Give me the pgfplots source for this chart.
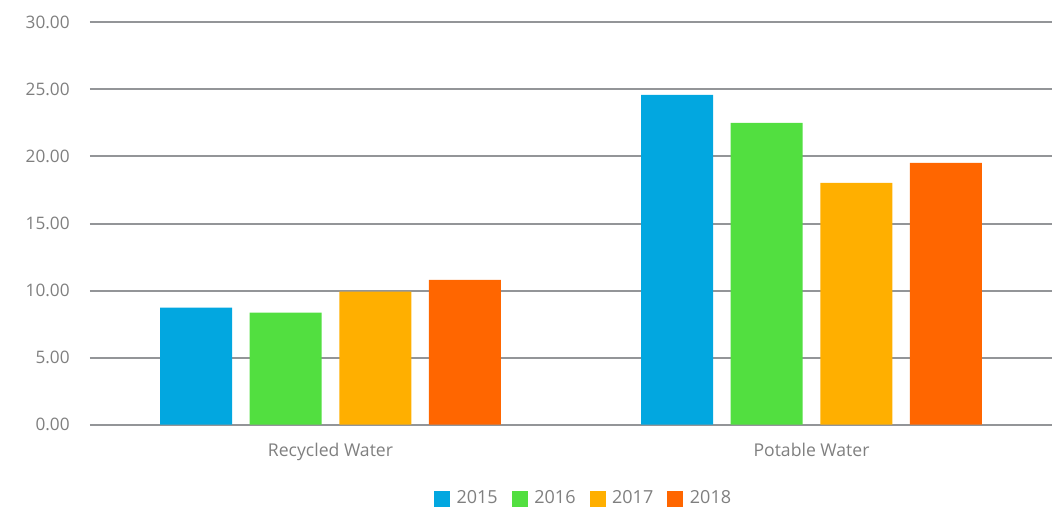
\documentclass[border=0pt]{standalone}
\usepackage{pgfplots}
\pgfplotsset{compat=1.18}
\usepackage{fontspec}
\setmainfont{Open Sans}
\definecolor{cA}{HTML}{02A7E0}
\definecolor{cB}{HTML}{52DF40}
\definecolor{cC}{HTML}{FFAF00}
\definecolor{cD}{HTML}{FF6600}
\definecolor{gridc}{HTML}{939598}
\definecolor{textc}{HTML}{7F7F7F}
\begin{document}
\begin{tikzpicture}
\path[use as bounding box] (-45pt,-41.65pt) rectangle (481.5pt,212.35pt);
\begin{axis}[
  at={(0,0)}, anchor=south west,
  scale only axis, width=481pt, height=201.2pt,
  xmin=-0.5, xmax=1.5, ymin=0, ymax=30,
  ybar, bar width=36pt,
  xtick={0,1}, xticklabels={Recycled Water, Potable Water},
  ytick={0,5,10,15,20,25,30},
  yticklabel={\pgfmathprintnumber[fixed,fixed zerofill,precision=2,assume math mode=true]{\tick}},
  ymajorgrids, major grid style={draw=gridc, line width=1pt},
  axis line style={draw=none},
  major tick length=0pt,
  tick label style={font=\fontsize{8.6}{10}\selectfont, text=textc},
  x tick label style={font=\fontsize{8.8}{10}\selectfont},
  y tick label style={anchor=east, inner sep=0pt, xshift=-10pt},
  x tick label style={anchor=base, inner sep=0pt, yshift=-16pt},
  legend columns=4,
  legend style={draw=none, fill=none, at={(0.512,-0.1834)}, anchor=center,
    font=\fontsize{9}{10}\selectfont, text=textc,
    nodes={inner sep=0pt},
    /tikz/every odd column/.append style={column sep=3.3pt},
    /tikz/every even column/.append style={column sep=7pt}},
  legend image code/.code={\fill[#1] (0pt,-4pt) rectangle (8pt,4pt);},
]
\addplot[fill=cA, draw=none, bar shift=-67.2pt] coordinates {(0,8.72) (1,24.59)};
\addplot[fill=cB, draw=none, bar shift=-22.4pt] coordinates {(0,8.35) (1,22.50)};
\addplot[fill=cC, draw=none, bar shift=22.4pt] coordinates {(0,9.93) (1,18.03)};
\addplot[fill=cD, draw=none, bar shift=67.2pt] coordinates {(0,10.80) (1,19.52)};
\legend{2015,2016,2017,2018}
\end{axis}
\end{tikzpicture}
\end{document}
